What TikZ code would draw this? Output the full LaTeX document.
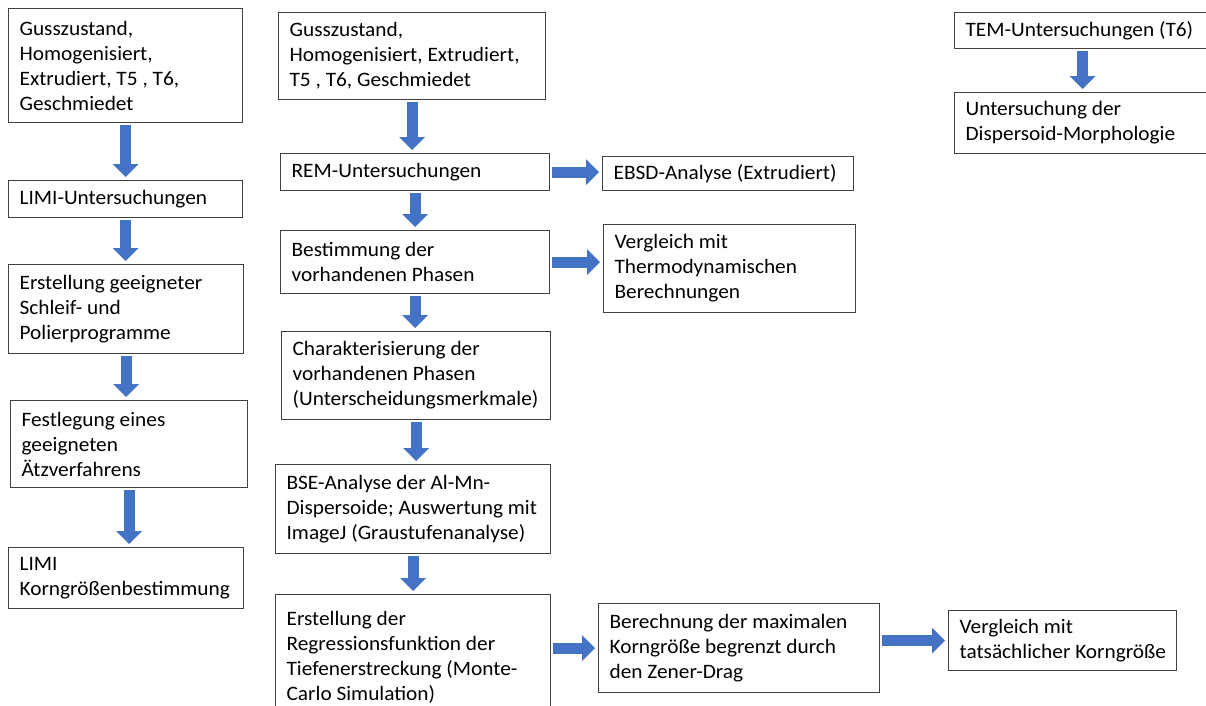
\documentclass[tikz,border=0pt]{standalone}
\usepackage{fontspec}
\setmainfont{Carlito}[FakeStretch=1.04]
\usetikzlibrary{arrows.meta}
\definecolor{pfeilblau}{RGB}{68,114,196}
\tikzstyle{kasten}=[
  draw=black!75,
  line width=1.2pt,
  rectangle,
  anchor=north west,
  align=flush left,
  inner xsep=8pt,
  inner ysep=0pt,
  font=\fontsize{20.5}{25}\selectfont,
  execute at begin node={\frenchspacing\spaceskip=0pt\xspaceskip=0pt\leftskip=3pt\hyphenpenalty=10000}
]
\tikzstyle{pfeil}=[
  draw=pfeilblau,
  line width=11pt,
  -{Triangle[width=25pt,length=13pt]},
  shorten <=2pt,
  shorten >=3pt
]

\begin{document}
\begin{tikzpicture}[x=1pt,y=-1pt]
          \clip (0,0) rectangle (1206,705);

          % linke Spalte
          \node[kasten, text width=218pt, minimum height=114pt] (L1) at (8,8) {Gusszustand,\\Homogenisiert,\\Extrudiert, T5 , T6,\\Geschmiedet};
          \node[kasten, text width=218pt, minimum height=37pt] (L2) at (8,180) {LIMI-Untersuchungen};
          \node[kasten, text width=219pt, minimum height=89pt] (L3) at (8,264) {Erstellung geeigneter\\Schleif- und\\Polierprogramme};
          \node[kasten, text width=221pt, minimum height=87pt] (L4) at (10,400) {Festlegung eines\\geeigneten\\Ätzverfahrens};
          \node[kasten, text width=219pt, minimum height=61pt] (L5) at (8,547) {LIMI\\Korngrößenbestimmung};

          % mittlere Spalte
          \node[kasten, text width=251pt, minimum height=87pt] (M1) at (278,12) {Gusszustand,\\Homogenisiert, Extrudiert,\\T5 , T6, Geschmiedet};
          \node[kasten, text width=253pt, minimum height=37pt] (M2) at (280,153) {REM-Untersuchungen};
          \node[kasten, text width=253pt, minimum height=63pt] (M3) at (280,230) {Bestimmung der\\vorhandenen Phasen};
          \node[kasten, text width=253pt, minimum height=88pt] (M4) at (281,331) {Charakterisierung der\\vorhandenen Phasen\\(Unterscheidungsmerkmale)};
          \node[kasten, text width=259pt, minimum height=89pt] (M5) at (275,464) {BSE-Analyse der Al-Mn-\\Dispersoide; Auswertung mit\\ImageJ (Graustufenanalyse)};
          \node[kasten, text width=259pt, minimum height=125pt] (M6) at (275,594) {Erstellung der\\Regressionsfunktion der\\Tiefenerstreckung (Monte-\\Carlo Simulation)};

          % rechts
          \node[kasten, text width=235pt, minimum height=34pt] (E1) at (602,156) {EBSD-Analyse (Extrudiert)};
          \node[kasten, text width=236pt, minimum height=88pt] (E2) at (603,224) {Vergleich mit\\Thermodynamischen\\Berechnungen};
          \node[kasten, text width=265pt, minimum height=89pt] (E3) at (598,603) {Berechnung der maximalen\\Korngröße begrenzt durch\\den Zener-Drag};
          \node[kasten, text width=212pt, minimum height=60pt] (E4) at (948,610) {Vergleich mit\\tatsächlicher Korngröße};
          \node[kasten, text width=240pt, minimum height=36pt] (T1) at (954,12) {TEM-Untersuchungen (T6)};
          \node[kasten, text width=240pt, minimum height=61pt] (T2) at (954,92) {Untersuchung der\\Dispersoid-Morphologie};

          \foreach \a/\b in {L1/L2,L2/L3,L3/L4,L4/L5,M1/M2,M2/M3,M3/M4,M4/M5,M5/M6,T1/T2}{
            \draw[pfeil] (\a.south) -- (\a.south |- \b.north);
          }
          \draw[pfeil] (M2.east) -- (M2.east -| E1.west);
          \draw[pfeil] (M3.east) -- (M3.east -| E2.west);
          \draw[pfeil] (M6.east |- E3.west) -- (E3.west);
          \draw[pfeil] (E3.east |- E4.west) -- (E4.west);
        \end{tikzpicture}
\end{document}
